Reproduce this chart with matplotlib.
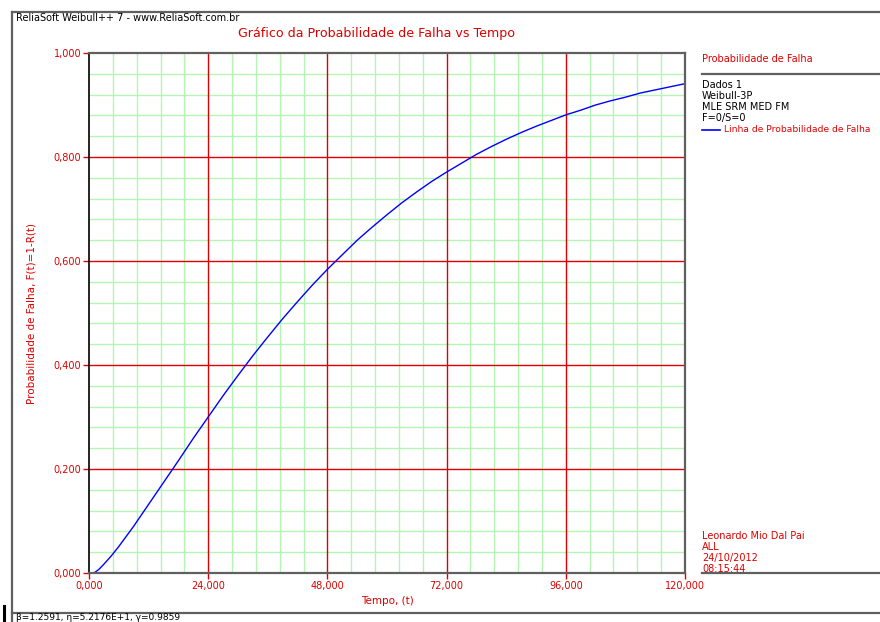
import matplotlib
matplotlib.use("Agg")
import matplotlib.pyplot as plt
from matplotlib.ticker import MultipleLocator, FixedLocator
from matplotlib.lines import Line2D

plt.rcParams['font.family'] = ['DejaVu Sans']

# ---- data ----
tempo = [1000, 2000, 3000, 4500, 6000, 9000, 12000, 15000, 18000, 21000, 24000, 27000,
         30000, 33000, 36000, 39000, 42000, 45000, 48000, 51000, 54000, 57000, 60000,
         63000, 66000, 69000, 72000, 75000, 78000, 81000, 84000, 87000, 90000, 93000,
         96000, 99000, 102000, 105000, 108000, 111000, 114000, 117000, 120000]
prob_falha = [0.000, 0.007, 0.017, 0.033, 0.051, 0.090, 0.132, 0.174, 0.216, 0.259, 0.300, 0.341,
              0.380, 0.418, 0.454, 0.489, 0.522, 0.554, 0.584, 0.612, 0.640, 0.665, 0.689,
              0.712, 0.733, 0.753, 0.771, 0.788, 0.805, 0.820, 0.834, 0.847, 0.859, 0.870,
              0.881, 0.890, 0.900, 0.908, 0.915, 0.923, 0.929, 0.935, 0.941]
x_ticks = [0, 24000, 48000, 72000, 96000, 120000]
x_tick_labels = ["0,000", "24,000", "48,000", "72,000", "96,000", "120,000"]
y_ticks = [0.0, 0.2, 0.4, 0.6, 0.8, 1.0]
y_tick_labels = ["0,000", "0,200", "0,400", "0,600", "0,800", "1,000"]
legend_info = ["Dados 1", "Weibull-3P", "MLE SRM MED FM", "F=0/S=0"]
author_info = ["Leonardo Mio Dal Pai", "ALL", "24/10/2012", "08:15:44"]

RED = "#dd0000"
GREEN = "#b4f5b4"
GRAY = "#606060"

W, H = 880, 622
fig = plt.figure(figsize=(W / 100, H / 100), dpi=100)
fig.patch.set_facecolor("white")

def fx(px):
    return px / W

def fy(py):
    return 1 - py / H

ax = fig.add_axes([fx(89), fy(573), fx(685) - fx(89), fy(53) - fy(573)])
ax.set_xlim(0, 120000)
ax.set_ylim(0, 1.0)

# minor grid (green)
ax.xaxis.set_minor_locator(MultipleLocator(4800))
ax.yaxis.set_minor_locator(MultipleLocator(0.04))
ax.grid(which="minor", color=GREEN, linewidth=1.0, zorder=0)
ax.set_axisbelow(True)
# major grid (red)
for xv in x_ticks[1:-1]:
    ax.axvline(xv, color=RED, linewidth=1.0, zorder=1)
for yv in y_ticks[1:-1]:
    ax.axhline(yv, color=RED, linewidth=1.0, zorder=1)

ax.plot(tempo, prob_falha, color="#0000ff", linewidth=1.0, zorder=3)

ax.xaxis.set_major_locator(FixedLocator(x_ticks))
ax.yaxis.set_major_locator(FixedLocator(y_ticks))
ax.set_xticklabels(x_tick_labels)
ax.set_yticklabels(y_tick_labels)
ax.tick_params(which="minor", length=0)
ax.tick_params(which="major", length=4, width=1, color=RED, labelcolor=RED,
               labelsize=7, pad=1.5)

ax.spines["left"].set_color("black")
ax.spines["left"].set_linewidth(1.2)
for s in ["top", "right", "bottom"]:
    ax.spines[s].set_color(GRAY)
    ax.spines[s].set_linewidth(1.6)
for sp in ax.spines.values():
    sp.set_zorder(4)

ax.set_xlabel("Tempo, (t)", color=RED, fontsize=7.5, labelpad=4)
ax.set_ylabel("Probabilidade de Falha, F(t)=1-R(t)", color=RED, fontsize=7.5, labelpad=12)

# frame lines
def hline(y, x0, x1, lw=1.6, color=GRAY):
    fig.add_artist(Line2D([fx(x0), fx(x1)], [fy(y), fy(y)], color=color, linewidth=lw))

def vline(x, y0, y1, lw=1.6, color=GRAY):
    fig.add_artist(Line2D([fx(x), fx(x)], [fy(y0), fy(y1)], color=color, linewidth=lw))

hline(12, 12, 880)
vline(12, 12, 622)
hline(613, 12, 880)
hline(74, 702, 880)
hline(573, 702, 880)
vline(4, 606, 622, lw=2.2, color="black")

# texts
fig.text(fx(16), fy(18), "ReliaSoft Weibull++ 7 - www.ReliaSoft.com.br", color="black",
         fontsize=7, ha="left", va="center")
fig.text(fx(376), fy(33), "Gráfico da Probabilidade de Falha vs Tempo", color=RED,
         fontsize=9.1, ha="center", va="center")

fig.text(fx(702), fy(59), "Probabilidade de Falha", color=RED, fontsize=7, ha="left", va="center")
for i, s in enumerate(legend_info):
    fig.text(fx(702), fy(85 + 11 * i), s, color="black", fontsize=7, ha="left", va="center")
fig.add_artist(Line2D([fx(702), fx(720)], [fy(130), fy(130)], color="#0000ff", linewidth=1.2))
fig.text(fx(724), fy(129), "Linha de Probabilidade de Falha", color=RED, fontsize=6.6,
         ha="left", va="center")

for i, s in enumerate(author_info):
    fig.text(fx(702), fy(536 + 11 * i), s, color=RED, fontsize=7, ha="left", va="center")

fig.text(fx(16), fy(621.5), "β=1.2591, η=5.2176E+1, γ=0.9859", color="black", fontsize=6.5,
         ha="left", va="bottom")

fig.savefig("out.png", dpi=100, facecolor="white")
